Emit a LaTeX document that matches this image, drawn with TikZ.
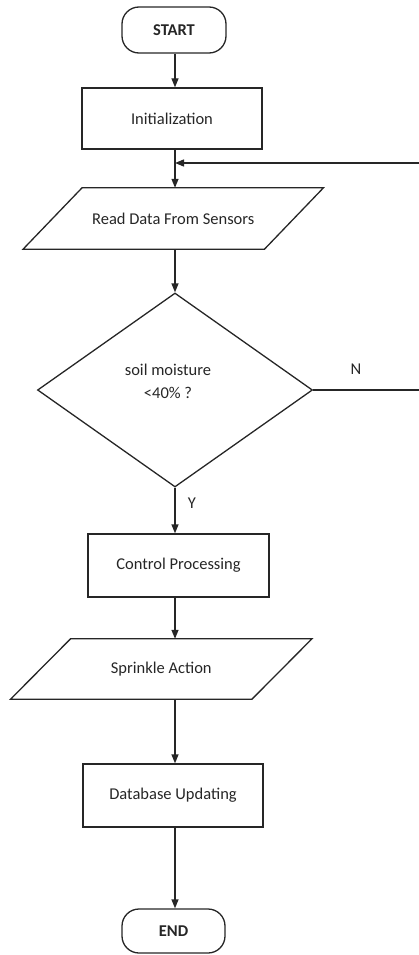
\documentclass[tikz,border=0pt]{standalone}
\usepackage{fontspec}
\setmainfont{Carlito}
\usetikzlibrary{arrows.meta,shapes.geometric,calc}
\begin{document}
\begin{tikzpicture}[x=1pt,y=-1pt,
  line/.style={line width=1.3pt, draw=black!85},
  arr/.style={line, -{Triangle[length=9pt,width=7pt]}},
  txt/.style={font=\fontsize{16.5}{23}\selectfont, text=black!85},
  term/.style={line, rounded corners=17pt, inner sep=0pt, text=black!85, font=\fontsize{16.5}{23}\selectfont\bfseries},
  proc/.style={txt, line, rectangle, inner sep=0pt},
  iobox/.style={txt, inner sep=0pt},
  dec/.style={line, diamond, inner sep=0pt, minimum width=275pt, minimum height=194pt}
]
\useasboundingbox (0,0) rectangle (419,955);
\coordinate (axis) at (175,0);

% nodes
\node[term, minimum width=104pt, minimum height=46pt] (startn) at (174,30) {START};
\node[proc, minimum width=180pt, minimum height=61pt] (init) at (172,118.5) {Initialization};
\node[iobox, minimum width=241pt, minimum height=61pt] (read) at (173.25,218.5) {Read Data From Sensors};
\draw[line] ([xshift=29.5pt]read.north west) -- ([xshift=29.5pt]read.north east)
  -- ([xshift=-29.5pt]read.south east) -- ([xshift=-29.5pt]read.south west) -- cycle;
\node[dec] (dec) at (175,390) {};
\node[txt, align=center, inner sep=0pt] (dectext) at (168,381) {soil moisture\\<40\% ?};
\node[proc, minimum width=181pt, minimum height=63pt] (ctrl) at (178.5,565.5) {Control Processing};
\node[iobox, minimum width=241pt, minimum height=60pt] (spr) at (161.25,669) {Sprinkle Action};
\draw[line] ([xshift=30pt]spr.north west) -- ([xshift=30pt]spr.north east)
  -- ([xshift=-30pt]spr.south east) -- ([xshift=-30pt]spr.south west) -- cycle;
\node[proc, minimum width=180pt, minimum height=63pt] (db) at (173,795.5) {Database Updating};
\node[term, minimum width=103pt, minimum height=44pt] (endn) at (173.5,931) {END};

% labels
\node[txt] (nlab) at (356,369) {N};
\node[txt] (ylab) at (192,503) {Y};

% connectors
\coordinate (j) at (175,163);
\coordinate (rbot) at (421,390);
\coordinate (rtop) at (421,163);
\draw[arr] (startn.south -| axis) -- (init.north -| axis);
\draw[arr] (init.south -| axis) -- (read.north -| axis);
\draw[arr] (read.south -| axis) -- (dec.north);
\draw[arr] (dec.south) -- (ctrl.north -| axis);
\draw[arr] (ctrl.south -| axis) -- (spr.north -| axis);
\draw[arr] (spr.south -| axis) -- (db.north -| axis);
\draw[arr] (db.south -| axis) -- (endn.north -| axis);
\draw[line] (dec.east) -- (rbot) -- (rtop);
\draw[arr] (rtop) -- (j);
\end{tikzpicture}
\end{document}
